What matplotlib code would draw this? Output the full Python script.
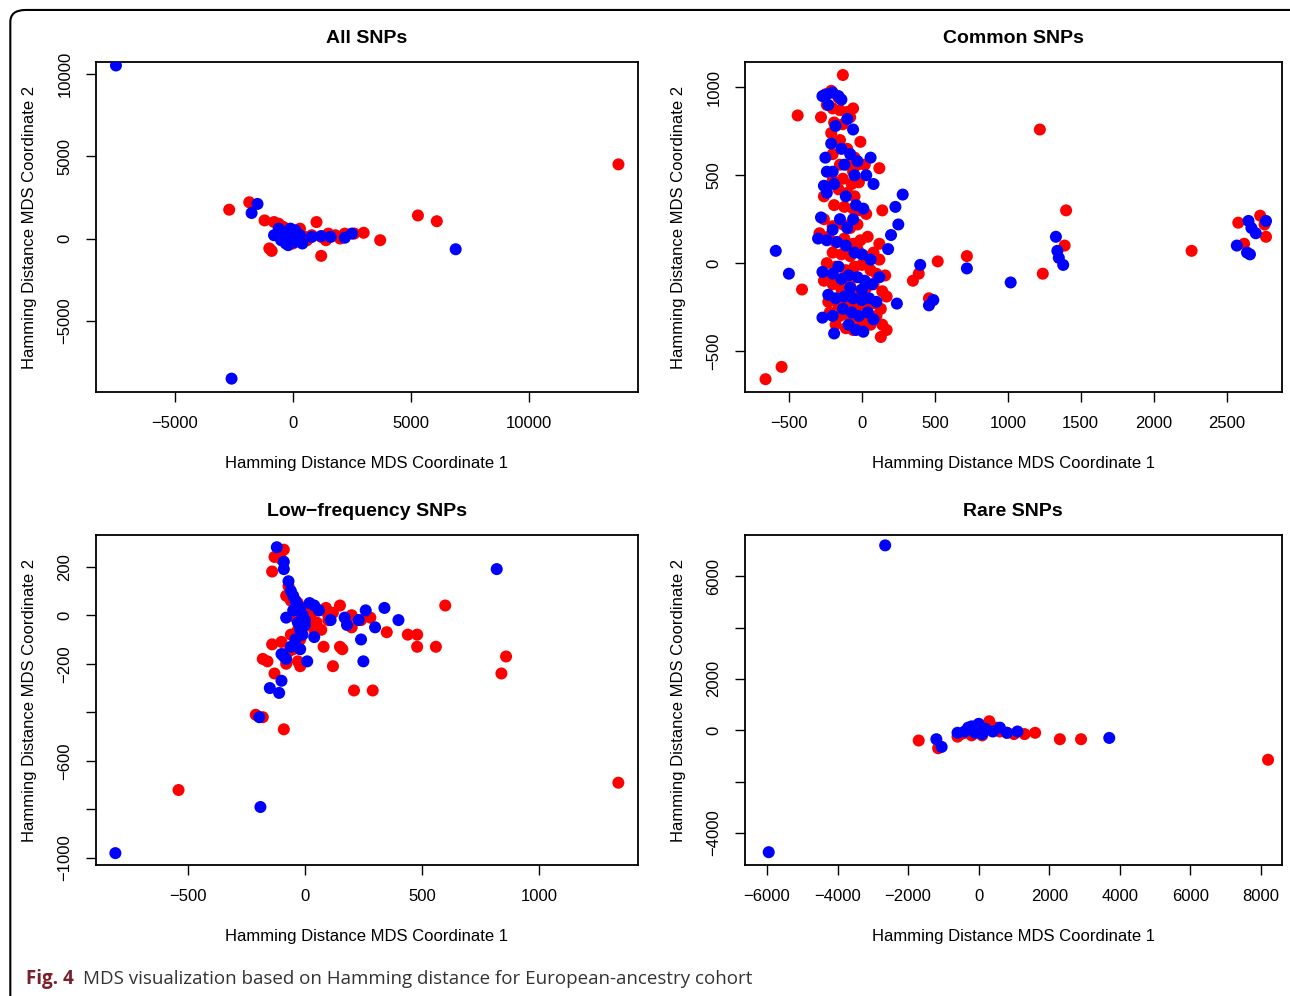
import numpy as np
import matplotlib.pyplot as plt
from matplotlib.patches import FancyBboxPatch

plt.rcParams['font.family'] = ['Liberation Sans', 'DejaVu Sans']

# ---------------------------------------------------------------------------
# DATA (data units)
# ---------------------------------------------------------------------------
all_red = [(-1000, -600), (-800, 1000), (-600, 900), (-400, 700), (-200, 500), (200, 300), (500, 100),
           (800, 200), (1200, 100), (1500, 300), (1800, 200), (2200, 300), (2600, 300), (3000, 350),
           (-1200, 1100), (-300, -200), (600, -100), (1000, 1000), (-500, 200), (0, -300), (1400, -100),
           (2000, 0), (-2700, 1750), (-1850, 2200), (5300, 1400), (6100, 1050), (13800, 4500),
           (3700, -100), (1200, -1050), (-900, -750), (300, 600)]
all_blue = [(-7500, 10500), (-2600, -8500), (6900, -650), (-1500, 2100), (-1750, 1550), (-400, 400),
            (-200, 100), (0, 0), (100, -200), (300, 200), (-300, -300), (-100, 600), (200, -100),
            (-500, -100), (800, 100), (1200, 150), (1600, 100), (2200, 50), (2500, 300), (-600, 600),
            (0, 300), (400, -300), (100, 500), (-200, -400), (-800, 200)]

common_red = [(-130, 1070), (-250, 960), (-210, 980), (-160, 940), (-240, 900), (-200, 880), (-150, 870),
              (-100, 860), (-60, 880), (-80, 830), (-440, 840), (-280, 830), (-190, 800), (-130, 790),
              (-210, 740), (-150, 700), (-100, 650), (-10, 690), (-50, 600), (-200, 620), (-150, 560),
              (-100, 560), (-30, 560), (20, 560), (120, 540), (-60, 520), (-200, 470), (-130, 480),
              (-70, 450), (-20, 460), (-160, 420), (-100, 400), (-50, 380), (-260, 380), (-190, 330),
              (-120, 320), (-60, 310), (-10, 300), (30, 280), (140, 300), (-260, 250), (-200, 210),
              (-130, 220), (-80, 200), (-30, 220), (-290, 170), (-230, 150), (-180, 120), (-120, 140),
              (-60, 110), (-10, 130), (40, 150), (120, 110), (-200, 60), (-140, 50), (-80, 40), (-30, 80),
              (20, 40), (80, 60), (120, 20), (-240, 0), (-180, -20), (-110, -40), (-50, -20), (0, -10),
              (60, -40), (100, -60), (160, -70), (-260, -100), (-200, -120), (-140, -150), (-80, -130),
              (-20, -160), (30, -140), (80, -120), (140, -160), (-230, -220), (-160, -240), (-100, -230),
              (-40, -250), (20, -240), (70, -230), (130, -260), (-220, -280), (-150, -300), (-80, -310),
              (-20, -330), (40, -320), (100, -300), (-180, -350), (-110, -370), (-60, -380), (0, -360),
              (60, -350), (140, -350), (130, -420), (170, -380),
              (-660, -660), (-550, -590), (-410, -150), (1220, 760), (1400, 300), (1390, 100),
              (1240, -60), (720, 40), (520, 10), (390, -60), (350, -100), (460, -200), (2260, 70),
              (2580, 230), (2620, 110), (2730, 270), (2760, 220), (2770, 150), (170, -190)]
common_blue = [(-270, 950), (-240, 960), (-200, 970), (-160, 950), (-140, 930), (-230, 900), (-180, 780),
               (-100, 820), (-60, 760), (-210, 680), (-250, 600), (-240, 520), (-140, 650), (-80, 620),
               (-30, 580), (60, 600), (-120, 560), (-200, 520), (-50, 500), (30, 500), (80, 450),
               (-260, 440), (-190, 450), (-240, 400), (-110, 380), (-150, 250), (-200, 190), (-60, 250),
               (10, 310), (-280, 260), (-300, 140), (-240, 130), (-170, 120), (-110, 100), (-50, 60),
               (0, 50), (60, 20), (-270, -50), (-200, -60), (-140, -90), (-90, -70), (-30, -80), (20, -100),
               (70, -120), (120, -80), (-230, -180), (-180, -200), (-120, -190), (-60, -200), (0, -210),
               (50, -200), (100, -220), (-270, -310), (-200, -300), (-130, -260), (-70, -280), (-20, -300),
               (40, -280), (-190, -400), (-90, -350), (-40, -380), (10, -390), (80, -320), (-80, -140),
               (0, -150), (-160, -20), (-100, 200), (-40, 330),
               (-590, 70), (-500, -60), (400, -10), (720, -30), (490, -210), (460, -240), (1020, -110),
               (1330, 150), (1340, 70), (1350, 30), (1380, -10), (2570, 100), (2650, 240), (2670, 200),
               (2700, 170), (2770, 240), (2640, 60), (2660, 50), (280, 390), (230, 320), (250, 220),
               (200, 160), (180, 80), (240, -230)]

low_red = [(-90, 270), (-130, 240), (-100, 230), (-140, 180), (-70, 120), (-80, 80), (-60, 60), (-30, 50),
           (0, 30), (30, 10), (60, 20), (90, 30), (120, 10), (150, 40), (180, -10), (200, 0), (240, -20),
           (280, -10), (350, -70), (440, -80), (480, -80), (480, -130), (560, -130), (600, 40), (860, -170),
           (840, -240), (1340, -690), (-540, -720), (-210, -410), (-180, -420), (-90, -470), (-160, -190),
           (-130, -240), (-80, -200), (-30, -190), (-20, -210), (120, -210), (150, -130), (160, -140),
           (80, -130), (210, -310), (290, -310), (-180, -180), (-140, -120), (-100, -110), (-50, -140),
           (-30, -60), (10, -40), (50, -30), (70, -60), (100, -20), (-60, -80), (-40, -10), (20, -20),
           (200, -50), (100, 0), (0, 0), (-70, -150), (40, -60), (-20, -100)]
low_blue = [(-120, 280), (-90, 220), (-90, 190), (-70, 140), (-60, 100), (-50, 80), (-40, 60), (-30, 40),
            (-20, 20), (-10, 0), (0, -20), (-30, -30), (-20, -60), (-10, -80), (-40, -100), (-60, -130),
            (-100, -160), (-80, -180), (-90, -170), (0, -40), (20, 50), (40, 40), (60, 20), (110, -20),
            (170, -10), (180, -40), (260, 20), (230, -20), (340, 30), (400, -20), (300, -50), (250, -190),
            (240, -100), (10, -190), (40, -90), (-100, -270), (-150, -300), (-110, -320), (820, 190),
            (-190, -790), (-810, -980), (-195, -420), (-80, -10), (-50, 20), (-20, -140)]

rare_red = [(8200, -1150), (2900, -350), (2300, -350), (-1700, -400), (-1150, -700), (1600, -100),
            (1300, -150), (1000, -150), (800, -100), (600, -50), (400, 0), (300, 350), (200, 100), (0, -50),
            (-200, -200), (-400, -100), (-600, -250), (-300, 50), (100, -200), (500, 100), (-500, -150),
            (-100, 150)]
rare_blue = [(-2650, 7200), (-5950, -4750), (3700, -300), (-1200, -350), (-1050, -650), (-300, 100),
             (0, 250), (200, 50), (-100, -100), (400, -50), (600, 100), (800, -100), (1100, -50),
             (-400, -50), (-200, 150), (100, -150), (-600, -100)]

panels = [
    ("All SNPs", all_red, all_blue, (-8347, 14619), (-9312, 10690),
     [-5000, 0, 5000, 10000], [-5000, 0, 5000, 10000], [-5000, 0, 5000, 10000]),
    ("Common SNPs", common_red, common_blue, (-801, 2877), (-733, 1142),
     [-500, 0, 500, 1000, 1500, 2000, 2500], [-500, 0, 500, 1000], [-500, 0, 500, 1000]),
    ("Low\u2212frequency SNPs", low_red, low_blue, (-893, 1423), (-1029, 329),
     [-500, 0, 500, 1000], [-1000, -800, -600, -400, -200, 0, 200], [-1000, -600, -200, 0, 200]),
    ("Rare SNPs", rare_red, rare_blue, (-6623, 8584), (-5250, 7590),
     [-6000, -4000, -2000, 0, 2000, 4000, 6000, 8000], [-4000, -2000, 0, 2000, 4000, 6000],
     [-4000, 0, 2000, 6000]),
]

# axes boxes in figure fractions [left, bottom, width, height]
boxes = [[0.0744, 0.6064, 0.420, 0.331], [0.5775, 0.6064, 0.416, 0.331],
         [0.0744, 0.1315, 0.420, 0.331], [0.5775, 0.1315, 0.416, 0.331]]

fig = plt.figure(figsize=(12.9, 9.96), dpi=100)
fig.patches.append(FancyBboxPatch((0.008, -0.05), 1.2, 1.04, transform=fig.transFigure,
                                  boxstyle="round,pad=0,rounding_size=0.012",
                                  fc='none', ec='black', lw=1.5))


def fmt(v):
    return f"{v:d}".replace('-', '\u2212')


for (title, red, blue, xl, yl, xt, yt, ylab), box in zip(panels, boxes):
    ax = fig.add_axes(box)
    r = np.array(red)
    b = np.array(blue)
    ax.scatter(r[:, 0], r[:, 1], s=75, c='#ff0000', edgecolors='none', zorder=2)
    ax.scatter(b[:, 0], b[:, 1], s=75, c='#0000ff', edgecolors='none', zorder=3)
    ax.set_xlim(*xl)
    ax.set_ylim(*yl)
    ax.set_xticks(xt)
    ax.set_xticklabels([fmt(v) for v in xt])
    ax.set_yticks(yt)
    ax.set_yticklabels([fmt(v) if v in ylab else '' for v in yt], rotation=90, va='center')
    ax.tick_params(direction='out', length=7, width=1, labelsize=12, pad=10)
    for sp in ax.spines.values():
        sp.set_linewidth(1.3)
    ax.set_title(title, fontsize=14, fontweight='bold', pad=14)
    ax.set_xlabel("Hamming Distance MDS Coordinate 1", fontsize=12, labelpad=18)
    ax.set_ylabel("Hamming Distance MDS Coordinate 2", fontsize=12, labelpad=15)

fig.text(0.02, 0.012, "Fig. 4", fontsize=13.5, fontweight='bold', color='#7a1f2b',
         family=['Open Sans', 'DejaVu Sans'])
fig.text(0.064, 0.012, "MDS visualization based on Hamming distance for European-ancestry cohort",
         fontsize=13.5, color='#333333', family=['Open Sans', 'DejaVu Sans'])

fig.savefig('out.png', dpi=100)
